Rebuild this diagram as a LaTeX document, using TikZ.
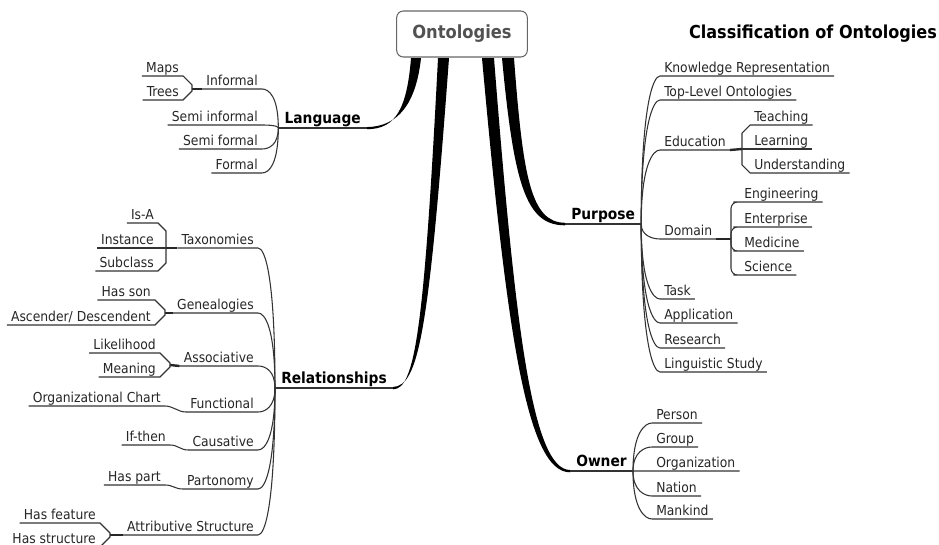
\documentclass[tikz,border=0pt]{standalone}
\usepackage{fontspec}
\setmainfont{DejaVu Sans Condensed}
\usetikzlibrary{calc}

\tikzset{
  leaf/.style={font=\fontsize{10.3}{12}\selectfont, text=black!85, inner xsep=3pt, inner ysep=0pt, text depth=2.6pt},
  branch/.style={font=\bfseries\fontsize{11.5}{14}\selectfont, inner xsep=4.5pt, inner ysep=0pt, text depth=3pt},
  link/.style={draw=black!80, line width=0.8pt},
  stub/.style={draw=black!85, line width=1.8pt},
  limb/.style={fill=black}
}

\begin{document}
\begin{tikzpicture}[x=0.75pt,y=-0.75pt]
  \useasboundingbox (0,0) rectangle (939,545);
  \node[draw=black!60, fill=white, rounded corners=5pt, line width=0.8pt, minimum width=98pt, minimum height=34.5pt, font=\bfseries\fontsize{13.6}{16}\selectfont, text=black!68] at (462,34) (root) {Ontologies};
  \node[font=\bfseries\fontsize{13.4}{16}\selectfont] at (813,34) (title) {Classification of Ontologies};

  \node[branch,anchor=south east] at (367,128) (lang) {Language};
  \node[branch,anchor=south east] at (393,388) (rel) {Relationships};
  \node[branch,anchor=south west] at (565,224) (purp) {Purpose};
  \node[branch,anchor=south west] at (570,471) (own) {Owner};

  \fill[limb] ($(root.south)+(-51,0.6)$) .. controls (407,108) and (396,129.2) .. ($(lang.south east)+(0,1.2)$) -- ($(lang.south east)+(0,-0.9)$) .. controls (398,126.5) and (416,104) .. ($(root.south)+(-41,0.6)$) -- cycle;
  \fill[limb] ($(root.south)+(-24,0.6)$) .. controls (424,330) and (415,389.3) .. ($(rel.south east)+(0,1.3)$) -- ($(rel.south east)+(0,-1)$) .. controls (419,386) and (429,330) .. ($(root.south)+(-13,0.6)$) -- cycle;
  \fill[limb] ($(root.south)+(20,0.6)$) .. controls (507,335) and (527,472.3) .. ($(own.south west)+(0,1.3)$) -- ($(own.south west)+(0,-1)$) .. controls (532,469.5) and (515,325) .. ($(root.south)+(32,0.6)$) -- cycle;
  \fill[limb] ($(root.south)+(40,0.6)$) .. controls (514,185) and (526,225.5) .. ($(purp.south west)+(0,1.3)$) -- ($(purp.south west)+(0,-1.2)$) .. controls (531,222.5) and (523,178) .. ($(root.south)+(52,0.6)$) -- cycle;
  \foreach \b in {lang,rel,purp,own} \draw[link,line width=1.1pt] (\b.south west) -- (\b.south east);

  \node[leaf,anchor=south east] at (262,89) (inf) {Informal};
  \node[leaf,anchor=south east] at (183,76) (maps) {Maps};
  \node[leaf,anchor=south east] at (183,100) (trees) {Trees};
  \node[leaf,anchor=south east] at (262,125) (seminf) {Semi informal};
  \node[leaf,anchor=south east] at (262,149) (semif) {Semi formal};
  \node[leaf,anchor=south east] at (262,173) (formal) {Formal};
  \coordinate (infbr) at (192,89);

  \node[leaf,anchor=south east] at (258,248) (tax) {Taxonomies};
  \node[leaf,anchor=south east] at (158,223) (isa) {Is-A};
  \node[leaf,anchor=south east] at (158,248) (inst) {Instance};
  \node[leaf,anchor=south east] at (158,271) (subcl) {Subclass};
  \node[leaf,anchor=south east] at (258,313) (gen) {Genealogies};
  \node[leaf,anchor=south east] at (155,300) (hasson) {Has son};
  \node[leaf,anchor=south east] at (155,325) (ascdesc) {Ascender/ Descendent};
  \node[leaf,anchor=south east] at (258,366) (assoc) {Associative};
  \node[leaf,anchor=south east] at (160,353) (likeli) {Likelihood};
  \node[leaf,anchor=south east] at (160,377) (meaning) {Meaning};
  \node[leaf,anchor=south east] at (258,412) (func) {Functional};
  \node[leaf,anchor=south east] at (165,406) (orgchart) {Organizational Chart};
  \node[leaf,anchor=south east] at (258,450) (caus) {Causative};
  \node[leaf,anchor=south east] at (170,445) (ifthen) {If-then};
  \node[leaf,anchor=south east] at (258,489) (parton) {Partonomy};
  \node[leaf,anchor=south east] at (165,485) (haspart) {Has part};
  \node[leaf,anchor=south east] at (258,535) (attr) {Attributive Structure};
  \node[leaf,anchor=south east] at (100,523) (hasfeat) {Has feature};
  \node[leaf,anchor=south east] at (100,547) (hasstruct) {Has structure};
  \coordinate (taxbr) at (166,248);
  \coordinate (genbr) at (165,313);
  \coordinate (assbr) at (170,365);
  \coordinate (attbr) at (110,535);

  \node[leaf,anchor=south west] at (660,76) (kr) {Knowledge Representation};
  \node[leaf,anchor=south west] at (660,100) (toplvl) {Top-Level Ontologies};
  \node[leaf,anchor=south west] at (660,150) (edu) {Education};
  \node[leaf,anchor=south west] at (750,125) (teach) {Teaching};
  \node[leaf,anchor=south west] at (750,149) (learn) {Learning};
  \node[leaf,anchor=south west] at (750,173) (underst) {Understanding};
  \node[leaf,anchor=south west] at (660,239) (dom) {Domain};
  \node[leaf,anchor=south west] at (740,202) (eng) {Engineering};
  \node[leaf,anchor=south west] at (740,227) (ent) {Enterprise};
  \node[leaf,anchor=south west] at (740,251) (med) {Medicine};
  \node[leaf,anchor=south west] at (740,275) (sci) {Science};
  \node[leaf,anchor=south west] at (660,299) (task) {Task};
  \node[leaf,anchor=south west] at (660,323) (appl) {Application};
  \node[leaf,anchor=south west] at (660,348) (resrch) {Research};
  \node[leaf,anchor=south west] at (660,372) (lingst) {Linguistic Study};
  \coordinate (edubr) at (742,149);
  \coordinate (dombr) at (731,239);

  \node[leaf,anchor=south west] at (652,423) (person) {Person};
  \node[leaf,anchor=south west] at (652,447) (group) {Group};
  \node[leaf,anchor=south west] at (652,471) (orgn) {Organization};
  \node[leaf,anchor=south west] at (652,496) (nation) {Nation};
  \node[leaf,anchor=south west] at (652,519) (mankind) {Mankind};

  \foreach \c in {inf,seminf,semif,formal}
    \draw[link] (lang.south west) .. controls ($(lang.south west)!.8!(lang.south west |- \c.south east)$) and ($(\c.south east)+(7,0)$) .. (\c.south east) -- (\c.south west);
  \foreach \c in {tax,gen,assoc,func,caus,parton,attr}
    \draw[link] (rel.south west) .. controls ($(rel.south west)!.8!(rel.south west |- \c.south east)$) and ($(\c.south east)+(7,0)$) .. (\c.south east) -- (\c.south west);
  \foreach \c in {kr,toplvl,edu,dom,task,appl,resrch,lingst}
    \draw[link] (purp.south east) .. controls ($(purp.south east)!.8!(purp.south east |- \c.south west)$) and ($(\c.south west)+(-7,0)$) .. (\c.south west) -- (\c.south east);
  \foreach \c in {person,group,orgn,nation,mankind}
    \draw[link] (own.south east) .. controls ($(own.south east)!.8!(own.south east |- \c.south west)$) and ($(\c.south west)+(-7,0)$) .. (\c.south west) -- (\c.south east);

  \draw[stub] (inf.south west) -- (infbr);
  \foreach \c/\d in {maps/9,trees/-9} \draw[link] (\c.south west) -- (\c.south east) -- ++(9,\d) -- (infbr);
  \draw[stub] (tax.south west) -- (taxbr);
  \draw[link] (inst.south west) -- (inst.south east) -- (taxbr);
  \foreach \c/\d in {isa/8,subcl/-8} \draw[link] (\c.south west) -- (\c.south east) -- ++(8,\d) -- (taxbr);
  \draw[stub] (gen.south west) -- (genbr);
  \foreach \c/\d in {hasson/10,ascdesc/-10} \draw[link] (\c.south west) -- (\c.south east) -- ++(10,\d) -- (genbr);
  \draw[stub] (assoc.south west) -- (assbr);
  \foreach \c/\d in {likeli/10,meaning/-10} \draw[link] (\c.south west) -- (\c.south east) -- ++(10,\d) -- (assbr);
  \draw[stub] (attr.south west) -- (attbr);
  \foreach \c/\d in {hasfeat/10,hasstruct/-10} \draw[link] (\c.south west) -- (\c.south east) -- ++(10,\d) -- (attbr);
  \foreach \x/\y in {orgchart/func,ifthen/caus,haspart/parton}
    \draw[link] (\x.south west) -- (\x.south east) .. controls +(8,0) and +(-8,0) .. (\y.south west);

  \draw[stub] (edu.south east) -- (edubr);
  \draw[link] (learn.south east) -- (learn.south west) -- (edubr);
  \foreach \c/\d in {teach/8,underst/-8} \draw[link] (\c.south east) -- (\c.south west) -- ++(-8,\d) -- (edubr);
  \draw[stub] (dom.south east) -- (dombr);
  \foreach \c in {eng,ent,med,sci} \draw[link,rounded corners=5pt] (dombr) |- (\c.south west) -- (\c.south east);
\end{tikzpicture}
\end{document}
